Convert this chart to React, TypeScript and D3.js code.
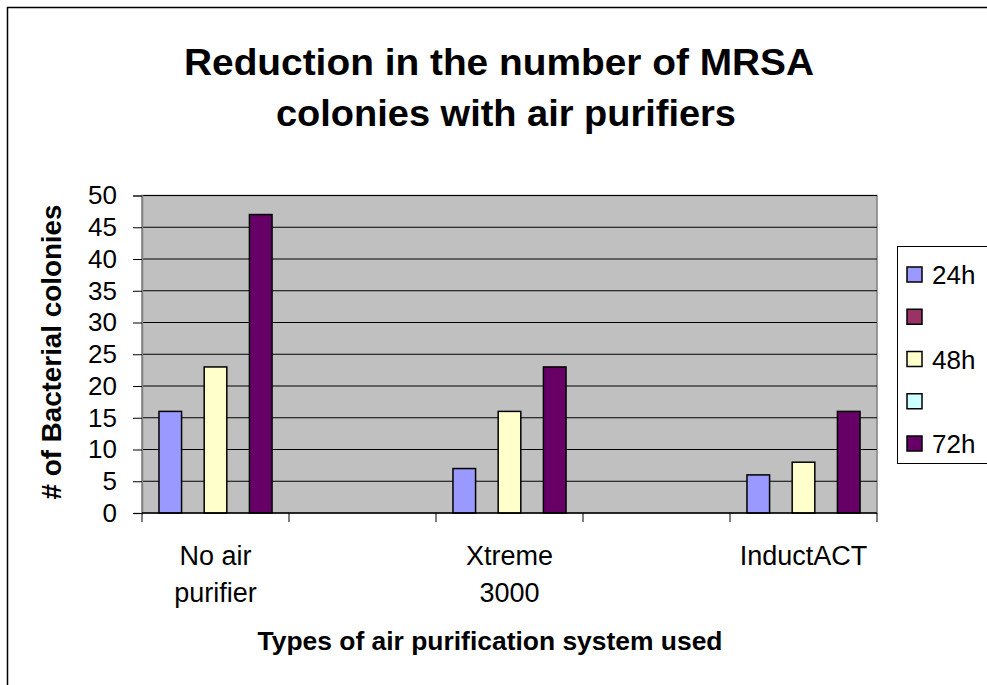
import * as d3 from 'd3';
import { useRef, useEffect } from 'react';

const categories = ['No air purifier', '', 'Xtreme 3000', '', 'InductACT'];
const categoryLines = [['No air', 'purifier'], [], ['Xtreme', '3000'], [], ['InductACT']];
const seriesNames = ['24h', '', '48h', '', '72h'];
const seriesColors = ['#9999FF', '#993366', '#FFFFCC', '#CCFFFF', '#660066'];
const values24h = [16, null, 7, null, 6];
const valuesBlank1 = [null, null, null, null, null];
const values48h = [23, null, 16, null, 8];
const valuesBlank2 = [null, null, null, null, null];
const values72h = [47, null, 23, null, 16];
const yTicks = [0, 5, 10, 15, 20, 25, 30, 35, 40, 45, 50];

const FONT = 'Arial, "Liberation Sans", sans-serif';

function App() {
    const svgRef = useRef<SVGSVGElement>(null);
    const width = 987;
    const height = 685;

    useEffect(() => {
        const svg = d3.select(svgRef.current);
        svg.selectAll('*').remove();

        const plot = { left: 142, right: 877, top: 195.5, bottom: 513 };
        const series = [values24h, valuesBlank1, values48h, valuesBlank2, values72h];

        // outer chart border (cut off at right/bottom like the original)
        svg.append('rect')
            .attr('x', 7.5).attr('y', 7.5)
            .attr('width', 1100).attr('height', 900)
            .attr('fill', '#fff').attr('stroke', '#000').attr('stroke-width', 1.5);

        // Title
        const title = svg.append('g').attr('font-family', FONT).attr('font-weight', 'bold')
            .attr('font-size', 37).attr('text-anchor', 'middle');
        title.append('text').attr('x', 499).attr('y', 75)
            .attr('textLength', 630).attr('lengthAdjust', 'spacingAndGlyphs')
            .text('Reduction in the number of MRSA');
        title.append('text').attr('x', 506).attr('y', 126)
            .attr('textLength', 460).attr('lengthAdjust', 'spacingAndGlyphs')
            .text('colonies with air purifiers');

        // Scales
        const x0 = d3.scaleBand<string>()
            .domain(d3.range(categories.length).map(String))
            .range([plot.left, plot.right])
            .padding(0);
        const x1 = d3.scaleBand<string>()
            .domain(d3.range(seriesNames.length).map(String))
            .range([0, x0.bandwidth()])
            .paddingInner(0)
            .paddingOuter(0.75);
        const y = d3.scaleLinear().domain([0, 50]).range([plot.bottom, plot.top]);

        // plot area
        svg.append('rect')
            .attr('x', plot.left).attr('y', plot.top)
            .attr('width', plot.right - plot.left).attr('height', plot.bottom - plot.top)
            .attr('fill', '#C0C0C0').attr('stroke', '#808080').attr('stroke-width', 1.5);

        // gridlines
        svg.append('g')
            .selectAll('line')
            .data(yTicks.filter(t => t > 0))
            .enter()
            .append('line')
            .attr('x1', plot.left).attr('x2', plot.right)
            .attr('y1', d => y(d)).attr('y2', d => y(d))
            .attr('stroke', '#000').attr('stroke-width', 1);

        // y axis
        const yAxis = svg.append('g')
            .attr('transform', `translate(${plot.left},0)`)
            .call(d3.axisLeft(y).tickValues(yTicks).tickSize(9).tickPadding(16));
        yAxis.select('.domain').attr('stroke', '#808080').attr('stroke-width', 1.5);
        yAxis.selectAll('.tick line').attr('stroke', '#000');
        yAxis.selectAll('.tick text')
            .attr('font-family', FONT).attr('font-size', 26).attr('fill', '#000');

        // bars
        series.forEach((vals, si) => {
            svg.append('g')
                .selectAll('rect')
                .data(vals.map((v, ci) => ({ v, ci })).filter(d => d.v != null))
                .enter()
                .append('rect')
                .attr('x', d => (x0(String(d.ci)) as number) + (x1(String(si)) as number))
                .attr('y', d => y(d.v as number))
                .attr('width', x1.bandwidth())
                .attr('height', d => plot.bottom - y(d.v as number))
                .attr('fill', seriesColors[si])
                .attr('stroke', '#000').attr('stroke-width', 1.5);
        });

        // x axis
        const xAxis = svg.append('g')
            .attr('transform', `translate(0,${plot.bottom})`);
        xAxis.append('line')
            .attr('x1', plot.left).attr('x2', plot.right)
            .attr('stroke', '#000').attr('stroke-width', 1.5);
        const bounds = d3.range(categories.length + 1).map(i => plot.left + i * x0.step());
        xAxis.selectAll('.xtick')
            .data(bounds)
            .enter()
            .append('line')
            .attr('x1', d => d).attr('x2', d => d)
            .attr('y1', 0).attr('y2', 9)
            .attr('stroke', '#000').attr('stroke-width', 1);

        categoryLines.forEach((lines, ci) => {
            const cx = (x0(String(ci)) as number) + x0.bandwidth() / 2;
            lines.forEach((ln, li) => {
                xAxis.append('text')
                    .attr('x', cx).attr('y', 52 + li * 37)
                    .attr('text-anchor', 'middle')
                    .attr('font-family', FONT).attr('font-size', 27)
                    .text(ln);
            });
        });

        // axis titles
        svg.append('text')
            .attr('x', 490).attr('y', 650)
            .attr('text-anchor', 'middle')
            .attr('font-family', FONT).attr('font-weight', 'bold').attr('font-size', 26)
            .attr('textLength', 465).attr('lengthAdjust', 'spacingAndGlyphs')
            .text('Types of air purification system used');

        svg.append('text')
            .attr('transform', 'translate(61,352) rotate(-90)')
            .attr('text-anchor', 'middle')
            .attr('font-family', FONT).attr('font-weight', 'bold').attr('font-size', 28)
            .attr('textLength', 295).attr('lengthAdjust', 'spacingAndGlyphs')
            .text('# of Bacterial colonies');

        // legend
        const legend = svg.append('g');
        legend.append('rect')
            .attr('x', 897.5).attr('y', 246.5)
            .attr('width', 200).attr('height', 217)
            .attr('fill', '#fff').attr('stroke', '#000').attr('stroke-width', 1);
        const rowY = d3.scalePoint<string>()
            .domain(d3.range(seriesNames.length).map(String))
            .range([275, 444]);
        seriesNames.forEach((name, si) => {
            const cy = rowY(String(si)) as number;
            legend.append('rect')
                .attr('x', 907).attr('y', cy - 8)
                .attr('width', 15).attr('height', 15)
                .attr('fill', seriesColors[si])
                .attr('stroke', '#000').attr('stroke-width', 1.5);
            if (name) {
                legend.append('text')
                    .attr('x', 932).attr('y', cy)
                    .attr('dy', '0.36em')
                    .attr('font-family', FONT).attr('font-size', 26)
                    .text(name);
            }
        });
    }, []);

    return (
        <svg
            ref={svgRef}
            width={width}
            height={height}
            style={{ position: 'absolute', left: 0, top: 0, background: '#fff' }}
        ></svg>
    );
}

export default App;
